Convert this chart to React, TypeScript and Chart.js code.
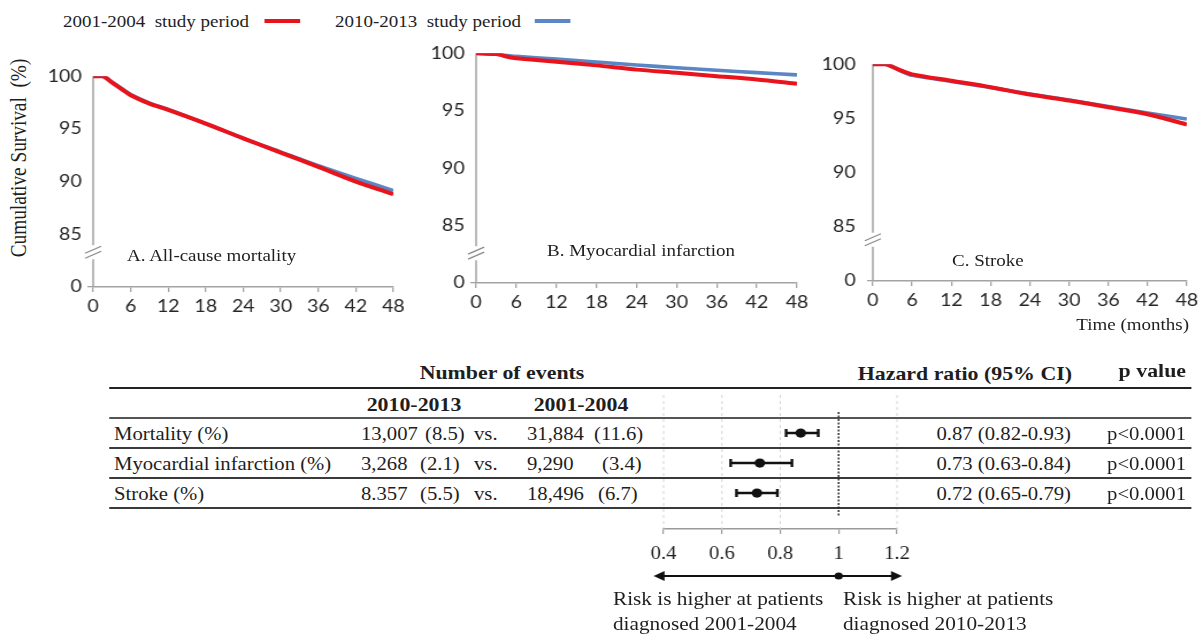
import React, { useEffect, useRef } from 'react';
import { Chart, registerables } from 'chart.js';

Chart.register(...registerables);

// The figure is laid out on a narrower sheet and widened horizontally by SX.
const SX = 1.15;
const ix = (x: number) => x / SX;

const SERIF = '"Liberation Serif", "Times New Roman", serif';
const SANS = 'Lato, "Open Sans", sans-serif';
const RED = '#e8131b';
const BLUE = '#5a86c4';
const AXIS = '#a3a3a3';
const INK = '#1e1e1e';

// Legend
const periodLabels = ['2001-2004  study period', '2010-2013  study period'];

// Survival axes
const monthTicks = [0, 6, 12, 18, 24, 30, 36, 42, 48];
const survivalTicks = [85, 90, 95, 100];
const survivalFloor = 80; // bottom of the broken axis, labelled "0"
const floorLabel = '0';

// A. All-cause mortality
const monthsA = [0, 1.6, 3, 5, 6, 9, 12, 18, 24, 30, 36, 42, 48];
const survA2001 = [100, 100, 99.4, 98.6, 98.2, 97.4, 96.8, 95.5, 94.1, 92.75, 91.4, 90.0, 88.8];
const survA2010 = [100, 100, 99.45, 98.65, 98.25, 97.45, 96.85, 95.5, 94.1, 92.8, 91.5, 90.3, 89.15];

// B. Myocardial infarction
const monthsB = [0, 3, 5, 6, 12, 18, 24, 30, 36, 42, 48];
const survB2001 = [100, 99.92, 99.65, 99.57, 99.26, 98.94, 98.57, 98.29, 98.0, 97.71, 97.34];
const survB2010 = [100, 99.92, 99.78, 99.72, 99.49, 99.23, 98.97, 98.74, 98.51, 98.31, 98.11];

// C. Stroke
const monthsC = [0, 2, 4, 6, 12, 18, 24, 30, 36, 42, 48];
const survC2001 = [100, 100, 99.5, 99.06, 98.47, 97.88, 97.2, 96.65, 96.03, 95.38, 94.44];
const survC2010 = [100, 100, 99.45, 98.97, 98.41, 97.85, 97.24, 96.7, 96.1, 95.5, 94.94];

// Events table and hazard ratios
const outcomes = ['Mortality (%)', 'Myocardial infarction (%)', 'Stroke (%)'];
const events2010 = ['13,007', '3,268', '8.357'];
const pct2010 = ['8.5', '2.1', '5.5'];
const events2001 = ['31,884', '9,290', '18,496'];
const pct2001 = ['11.6', '3.4', '6.7'];
const hazardRatio = [0.87, 0.73, 0.72];
const ciLow = [0.82, 0.63, 0.65];
const ciHigh = [0.93, 0.84, 0.79];
const pValues = ['p<0.0001', 'p<0.0001', 'p<0.0001'];
const hrTicks = [0.4, 0.6, 0.8, 1, 1.2];
const hrReference = 1;

const panels = [
  { title: 'A. All-cause mortality', months: monthsA, early: survA2001, late: survA2010,
    area: { l: 93, r: 393, t: 73, b: 287 }, breakAt: 83.3, labelPad: 5, titleAt: { x: 127, y: 256 } },
  { title: 'B. Myocardial infarction', months: monthsB, early: survB2001, late: survB2010,
    area: { l: 476, r: 797, t: 50, b: 283 }, breakAt: 82.6, labelPad: 5, titleAt: { x: 547, y: 251 } },
  { title: 'C. Stroke', months: monthsC, early: survC2001, late: survC2010,
    area: { l: 873, r: 1187, t: 56, b: 281 }, breakAt: 83.8, labelPad: 10, titleAt: { x: 952, y: 261 } },
];

function Label({ x, y, text, size = 18, bold = false, align = 'left', font = SERIF, color = INK }: any) {
  const tx = align === 'right' ? '-100%' : align === 'center' ? '-50%' : '0';
  return (
    <div
      style={{
        position: 'absolute', left: ix(x), top: y, transform: `translate(${tx}, -50%)`,
        fontFamily: font, fontSize: size, fontWeight: bold ? 'bold' : 'normal',
        whiteSpace: 'pre', lineHeight: 1, color,
      }}
    >
      {text}
    </div>
  );
}

function HLine({ x1, x2, y, t = 2, color = '#3a3a3a' }: any) {
  return (
    <div style={{ position: 'absolute', left: ix(x1), width: ix(x2) - ix(x1), top: y - t / 2, height: t, background: color }} />
  );
}

function SurvivalPanel({ months, early, late, area, breakAt, labelPad }: any) {
  const ref = useRef<HTMLCanvasElement>(null);
  const YW = 48, PT = 12, PR = 22, XH = 40;
  const left = Math.round(ix(area.l)) - YW;
  const width = Math.round(ix(area.r)) + PR - left;
  const top = area.t - PT;
  const height = area.b - area.t + PT + XH;

  useEffect(() => {
    const axisBreak = {
      id: 'axisBreak',
      beforeDatasetsDraw(chart: any) {
        const { ctx, chartArea, scales } = chart;
        const x0 = chartArea.left;
        const yb = scales.y.getPixelForValue(breakAt);
        ctx.save();
        ctx.strokeStyle = AXIS;
        ctx.lineWidth = 1.5;
        ctx.beginPath();
        ctx.moveTo(x0, chartArea.top);
        ctx.lineTo(x0, yb - 7);
        ctx.moveTo(x0, yb + 7);
        ctx.lineTo(x0, chartArea.bottom);
        ctx.stroke();
        ctx.strokeStyle = '#8a8a8a';
        ctx.lineWidth = 1.2;
        ctx.beginPath();
        for (const d of [-2.5, 2.5]) {
          ctx.moveTo(x0 - 7, yb + d + 3.5);
          ctx.lineTo(x0 + 7, yb + d - 3.5);
        }
        ctx.stroke();
        ctx.restore();
      },
    };

    const chart = new Chart(ref.current as HTMLCanvasElement, {
      type: 'line',
      data: {
        datasets: [
          {
            label: periodLabels[0],
            data: months.map((m: number, i: number) => ({ x: m, y: early[i] })),
            borderColor: RED, borderWidth: 4, pointRadius: 0, tension: 0.25, order: 0,
          },
          {
            label: periodLabels[1],
            data: months.map((m: number, i: number) => ({ x: m, y: late[i] })),
            borderColor: BLUE, borderWidth: 3.6, pointRadius: 0, tension: 0.25, order: 1,
          },
        ],
      },
      options: {
        responsive: false,
        animation: false,
        layout: { padding: { top: PT, right: PR, left: 0, bottom: 0 } },
        plugins: { legend: { display: false }, tooltip: { enabled: false } },
        scales: {
          x: {
            type: 'linear', min: 0, max: 48,
            afterBuildTicks: (s: any) => { s.ticks = monthTicks.map((v) => ({ value: v })); },
            afterFit: (s: any) => { s.height = XH; },
            grid: { drawOnChartArea: false, tickLength: 5, color: AXIS, lineWidth: 1.3 },
            border: { color: AXIS, width: 1.6 },
            ticks: { font: { family: SANS, size: 17 }, color: '#262626', padding: 4, maxRotation: 0 },
          },
          y: {
            type: 'linear', min: survivalFloor, max: 100,
            afterBuildTicks: (s: any) => { s.ticks = [survivalFloor, ...survivalTicks].map((v) => ({ value: v })); },
            afterFit: (s: any) => { s.width = YW; },
            grid: {
              drawOnChartArea: false, tickLength: 5, lineWidth: 1.3,
              tickColor: (c: any) => (c.tick && c.tick.value === survivalFloor ? AXIS : 'rgba(0,0,0,0)'),
            },
            border: { display: false },
            ticks: {
              font: { family: SANS, size: 17 }, color: '#262626', padding: labelPad,
              callback: (v: any) => (v === survivalFloor ? floorLabel : String(v)),
            },
          },
        },
      },
      plugins: [axisBreak],
    } as any);
    return () => chart.destroy();
  }, []);

  return (
    <canvas
      ref={ref}
      width={width}
      height={height}
      style={{ position: 'absolute', left, top, width, height }}
    />
  );
}

function ForestPlot() {
  const ref = useRef<HTMLCanvasElement>(null);
  const area = { l: 663, r: 897, t: 395, b: 529 };
  const PL = 30, PR = 30, PT = 5, XH = 62;
  const left = Math.round(ix(area.l)) - PL;
  const width = Math.round(ix(area.r)) + PR - left;
  const top = area.t - PT;
  const height = area.b - area.t + PT + XH;
  const rows = outcomes.length;

  useEffect(() => {
    const marks = {
      id: 'forestMarks',
      beforeDatasetsDraw(chart: any) {
        const { ctx, chartArea, scales } = chart;
        const xs = scales.x, ys = scales.y;
        ctx.save();
        // vertical guides
        ctx.lineWidth = 1;
        ctx.setLineDash([3, 3]);
        ctx.strokeStyle = '#d6d6d6';
        for (const v of hrTicks) {
          if (v === hrReference) continue;
          const px = xs.getPixelForValue(v);
          ctx.beginPath();
          ctx.moveTo(px, chartArea.top);
          ctx.lineTo(px, chartArea.bottom);
          ctx.stroke();
        }
        const rx = xs.getPixelForValue(hrReference);
        ctx.setLineDash([2, 1.5]);
        ctx.strokeStyle = '#222';
        ctx.lineWidth = 1.4;
        ctx.beginPath();
        ctx.moveTo(rx, chartArea.top + 17);
        ctx.lineTo(rx, chartArea.bottom - 13);
        ctx.stroke();
        ctx.setLineDash([]);
        // confidence intervals
        ctx.strokeStyle = '#111';
        ctx.lineWidth = 2.4;
        for (let i = 0; i < rows; i++) {
          const y = ys.getPixelForValue(rows - 1 - i);
          const a = xs.getPixelForValue(ciLow[i]);
          const b = xs.getPixelForValue(ciHigh[i]);
          ctx.beginPath();
          ctx.moveTo(a, y); ctx.lineTo(b, y);
          ctx.moveTo(a, y - 4); ctx.lineTo(a, y + 4);
          ctx.moveTo(b, y - 4); ctx.lineTo(b, y + 4);
          ctx.stroke();
        }
        ctx.restore();
      },
      afterDraw(chart: any) {
        const { ctx, chartArea, scales } = chart;
        const xs = scales.x;
        const y = chartArea.bottom + 47;
        const x1 = xs.getPixelForValue(hrTicks[0]) - 10 / SX;
        const x2 = xs.getPixelForValue(hrTicks[hrTicks.length - 1]) + 5 / SX;
        const head = 11 / SX;
        ctx.save();
        ctx.strokeStyle = '#111';
        ctx.fillStyle = '#111';
        ctx.lineWidth = 2;
        ctx.beginPath();
        ctx.moveTo(x1 + head - 1, y);
        ctx.lineTo(x2 - head + 1, y);
        ctx.stroke();
        ctx.beginPath();
        ctx.moveTo(x1, y); ctx.lineTo(x1 + head, y - 5); ctx.lineTo(x1 + head, y + 5); ctx.closePath();
        ctx.moveTo(x2, y); ctx.lineTo(x2 - head, y - 5); ctx.lineTo(x2 - head, y + 5); ctx.closePath();
        ctx.fill();
        ctx.beginPath();
        ctx.arc(xs.getPixelForValue(hrReference), y, 3.6, 0, Math.PI * 2);
        ctx.fill();
        ctx.restore();
      },
    };

    const chart = new Chart(ref.current as HTMLCanvasElement, {
      type: 'scatter',
      data: {
        datasets: [
          {
            data: hazardRatio.map((v, i) => ({ x: v, y: rows - 1 - i })),
            pointRadius: 4.6, pointBackgroundColor: '#111', pointBorderWidth: 0,
          },
        ],
      },
      options: {
        responsive: false,
        animation: false,
        layout: { padding: { top: PT, right: PR, left: PL, bottom: 0 } },
        plugins: { legend: { display: false }, tooltip: { enabled: false } },
        scales: {
          x: {
            type: 'linear', min: hrTicks[0], max: hrTicks[hrTicks.length - 1],
            afterBuildTicks: (s: any) => { s.ticks = hrTicks.map((v) => ({ value: v })); },
            afterFit: (s: any) => { s.height = XH; },
            grid: { drawOnChartArea: false, tickLength: 5, color: '#9a9a9a', lineWidth: 1.2 },
            border: { color: '#9a9a9a', width: 1.5 },
            ticks: { font: { family: SERIF, size: 18 }, color: INK, padding: 9, maxRotation: 0, callback: (v: any) => String(v) },
          },
          y: { type: 'linear', display: false, min: -1.2, max: 3.27 },
        },
      },
      plugins: [marks],
    } as any);
    return () => chart.destroy();
  }, []);

  return (
    <canvas
      ref={ref}
      width={width}
      height={height}
      style={{ position: 'absolute', left, top, width, height }}
    />
  );
}

export default function App() {
  const rowY = [434, 464, 494];
  return (
    <div
      style={{
        position: 'absolute', left: 0, top: 0, width: ix(1201), height: 637, overflow: 'hidden',
        transform: `scaleX(${SX})`, transformOrigin: '0 0', background: '#fff',
      }}
    >
      {/* legend */}
      <Label x={63} y={22} text={periodLabels[0]} size={16.5} />
      <div style={{ position: 'absolute', left: ix(265), width: ix(300) - ix(265), top: 19, height: 4, background: RED }} />
      <Label x={335} y={22} text={periodLabels[1]} size={16.5} />
      <div style={{ position: 'absolute', left: ix(535), width: ix(570) - ix(535), top: 19, height: 4, background: BLUE }} />

      {/* survival panels */}
      <div
        style={{
          position: 'absolute', left: ix(18), top: 158, transform: 'translate(-50%, -50%) rotate(-90deg)',
          fontFamily: SERIF, fontSize: 19.3, whiteSpace: 'pre', lineHeight: 1, color: INK,
        }}
      >
        {'Cumulative Survival  (%)'}
      </div>
      {panels.map((p, i) => (
        <SurvivalPanel key={i} {...p} />
      ))}
      {panels.map((p, i) => (
        <Label key={'t' + i} x={p.titleAt.x} y={p.titleAt.y} text={p.title} size={16.5} />
      ))}
      <Label x={1189} y={325} text="Time (months)" size={16.5} align="right" />

      {/* events table */}
      <Label x={502} y={372} text="Number of events" size={19} bold align="center" />
      <Label x={1072} y={373} text="Hazard ratio (95% CI)" size={19} bold align="right" />
      <Label x={1186} y={370} text="p value" size={19} bold align="right" />
      <HLine x1={109} x2={1191} y={388} t={2.6} color="#222" />
      <Label x={414} y={404} text="2010-2013" size={19} bold align="center" />
      <Label x={581} y={404} text="2001-2004" size={19} bold align="center" />
      <HLine x1={109} x2={1191} y={418} t={2} color="#555" />
      <HLine x1={109} x2={1191} y={448} t={2} color="#3a3a3a" />
      <HLine x1={109} x2={1191} y={478} t={2} color="#3a3a3a" />
      <HLine x1={109} x2={1191} y={508} t={2.2} color="#3a3a3a" />
      {outcomes.map((o, i) => (
        <React.Fragment key={o}>
          <Label x={114} y={rowY[i]} text={o} />
          <Label x={361} y={rowY[i]} text={events2010[i]} />
          <Label x={i === 0 ? 425 : 420} y={rowY[i]} text={`(${pct2010[i]})`} />
          <Label x={474} y={rowY[i]} text="vs." />
          <Label x={527} y={rowY[i]} text={events2001[i]} />
          <Label x={i === 0 ? 594 : i === 1 ? 602 : 598} y={rowY[i]} text={`(${pct2001[i]})`} />
          <Label
            x={1071}
            y={rowY[i]}
            align="right"
            text={`${hazardRatio[i].toFixed(2)} (${ciLow[i].toFixed(2)}-${ciHigh[i].toFixed(2)})`}
          />
          <Label x={1186} y={rowY[i]} align="right" text={pValues[i]} />
        </React.Fragment>
      ))}

      {/* forest plot */}
      <ForestPlot />
      <Label x={613} y={599} text="Risk is higher at patients" size={18.5} />
      <Label x={613} y={624} text="diagnosed 2001-2004" size={18.5} />
      <Label x={843} y={599} text="Risk is higher at patients" size={18.5} />
      <Label x={843} y={624} text="diagnosed 2010-2013" size={18.5} />
    </div>
  );
}
